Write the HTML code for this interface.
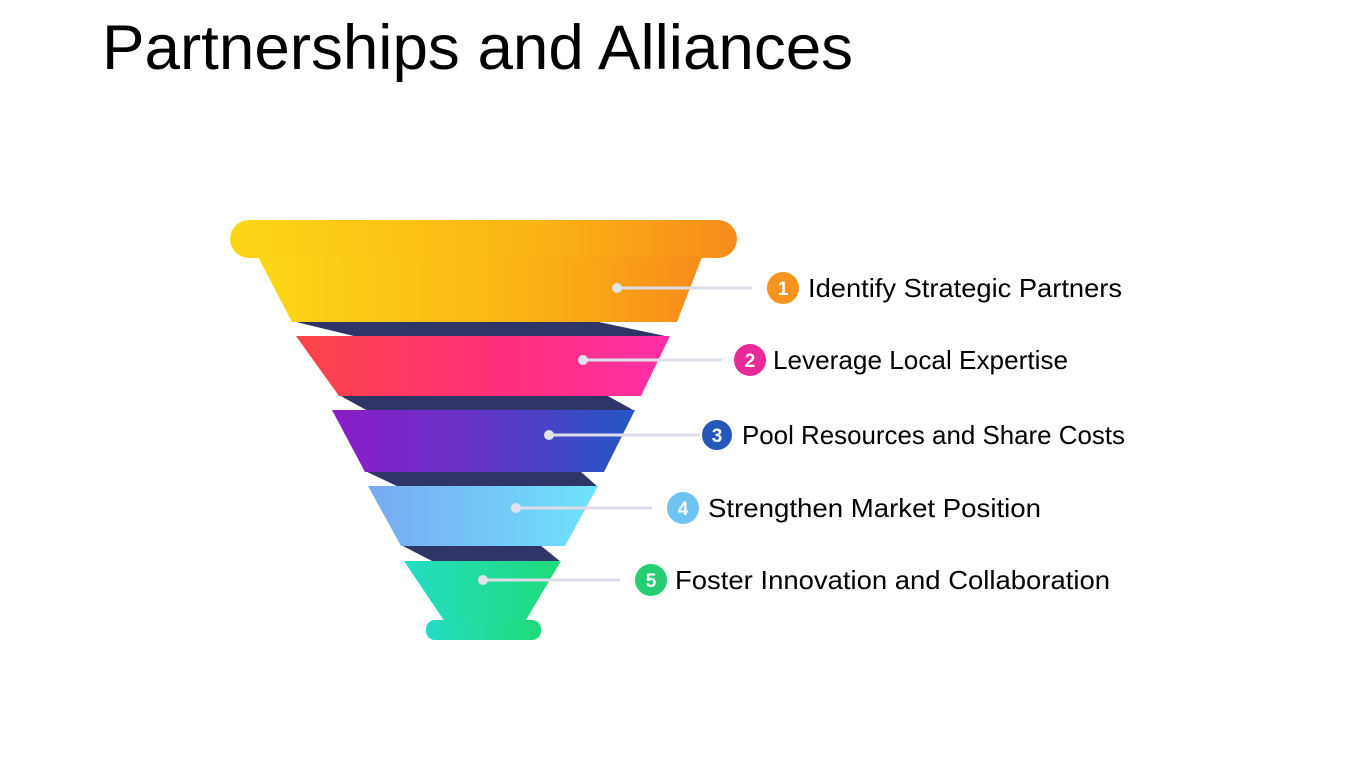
<!DOCTYPE html>
<html><head><meta charset="utf-8"><style>html,body{margin:0;padding:0;background:#fff;}svg{display:block}</style></head><body>
<svg width="1350" height="759" viewBox="0 0 1350 759" xmlns="http://www.w3.org/2000/svg">
<defs>
<linearGradient id="g1" x1="0" x2="1"><stop offset="0" stop-color="#fdd617"/><stop offset="0.6" stop-color="#fbb414"/><stop offset="1" stop-color="#f78c1b"/></linearGradient>
<linearGradient id="g2" x1="0" x2="1"><stop offset="0" stop-color="#fb4545"/><stop offset="0.55" stop-color="#ff2f7c"/><stop offset="1" stop-color="#ff2fa6"/></linearGradient>
<linearGradient id="g3" x1="0" x2="1"><stop offset="0" stop-color="#8c1cc8"/><stop offset="0.5" stop-color="#6335c8"/><stop offset="1" stop-color="#2458c4"/></linearGradient>
<linearGradient id="g4" x1="0" x2="1"><stop offset="0" stop-color="#79a9f3"/><stop offset="1" stop-color="#6ee3fb"/></linearGradient>
<linearGradient id="g5" x1="0" x2="1"><stop offset="0" stop-color="#24dcc4"/><stop offset="1" stop-color="#1fdb78"/></linearGradient>
</defs>
<text x="102" y="69" font-family="Liberation Sans, Arial, sans-serif" font-size="63" fill="#000" textLength="751" lengthAdjust="spacingAndGlyphs">Partnerships and Alliances</text>

<g fill="#2f3566">
<polygon points="292,321 594,321 670,337 358,337"/>
<polygon points="339,395 606,395 635,411 368,411"/>
<polygon points="365,471 580,471 598,487 399,487"/>
<polygon points="401,545 540,545 561,562 434,562"/>
</g>
<rect x="230" y="220" width="507" height="38" rx="19" fill="url(#g1)"/>
<polygon points="258,257 702,257 677,322 292,322" fill="url(#g1)"/>
<polygon points="296,336 670,336 641,396 339,396" fill="url(#g2)"/>
<polygon points="332,410 635,410 604,472 365,472" fill="url(#g3)"/>
<polygon points="368,486 598,486 565,546 401,546" fill="url(#g4)"/>
<polygon points="404,561 561,561 523,625 447,625" fill="url(#g5)"/>
<rect x="426" y="620" width="115" height="20" rx="9" fill="url(#g5)"/>

<g stroke="#dcdde8" stroke-width="3">
<line x1="617" y1="288" x2="752" y2="288"/>
<line x1="583" y1="360" x2="722" y2="360"/>
<line x1="549" y1="435" x2="700" y2="435"/>
<line x1="516" y1="508" x2="652" y2="508"/>
<line x1="483" y1="580" x2="620" y2="580"/>
</g>
<g fill="#e2e3ec">
<circle cx="617" cy="288" r="5"/><circle cx="583" cy="360" r="5"/><circle cx="549" cy="435" r="5"/><circle cx="516" cy="508" r="5"/><circle cx="483" cy="580" r="5"/>
</g>
<g font-family="Liberation Sans, Arial, sans-serif" font-weight="bold" font-size="19" fill="#fff" text-anchor="middle">
<circle cx="783" cy="288" r="16" fill="#f7941d"/><text x="783" y="295">1</text>
<circle cx="750" cy="360" r="16" fill="#ea2a98"/><text x="750" y="367">2</text>
<circle cx="717" cy="435" r="15" fill="#2457b8"/><text x="717" y="442">3</text>
<circle cx="683" cy="508" r="16" fill="#6fc3f1"/><text x="683" y="515">4</text>
<circle cx="651" cy="580" r="16" fill="#27cc73"/><text x="651" y="587">5</text>
</g>
<g font-family="Liberation Sans, Arial, sans-serif" font-size="26" fill="#000">
<text x="808" y="297" textLength="314" lengthAdjust="spacingAndGlyphs">Identify Strategic Partners</text>
<text x="773" y="369" textLength="295" lengthAdjust="spacingAndGlyphs">Leverage Local Expertise</text>
<text x="742" y="444" textLength="383" lengthAdjust="spacingAndGlyphs">Pool Resources and Share Costs</text>
<text x="708" y="517" textLength="333" lengthAdjust="spacingAndGlyphs">Strengthen Market Position</text>
<text x="675" y="589" textLength="435" lengthAdjust="spacingAndGlyphs">Foster Innovation and Collaboration</text>
</g>
</svg>
</body></html>
